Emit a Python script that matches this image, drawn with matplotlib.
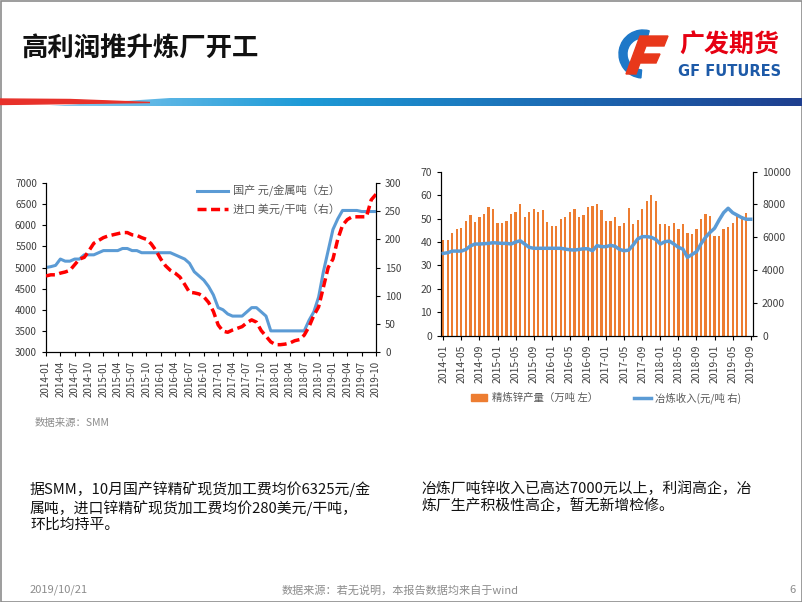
import numpy as np
import matplotlib
matplotlib.use("Agg")
import matplotlib.pyplot as plt
from matplotlib.patches import Rectangle, Wedge, Polygon
from matplotlib.lines import Line2D
from matplotlib.colors import LinearSegmentedColormap

plt.rcParams['font.family'] = ['Noto Sans CJK SC', 'DejaVu Sans']

    #========= DATA ======================================================#

# left chart: zinc concentrate treatment charges, 2014-01 .. 2019-10
tc_months = [f"{y}-{m:02d}" for y in range(2014, 2020) for m in range(1, 13)][:70]
domestic_tc = [5000, 5020, 5050, 5200, 5150, 5150, 5200, 5200, 5300, 5300,
               5300, 5350, 5400, 5400, 5400, 5400, 5450, 5450, 5400, 5400,
               5350, 5350, 5350, 5350, 5350, 5350, 5350, 5300, 5250, 5200,
               5100, 4900, 4800, 4700, 4550, 4350, 4050, 4000, 3900, 3850,
               3850, 3850, 3950, 4050, 4050, 3950, 3850, 3500, 3500, 3500,
               3500, 3500, 3500, 3500, 3500, 3750, 3950, 4300, 4900, 5400,
               5900, 6150, 6350, 6350, 6350, 6350, 6325, 6325, 6325, 6325]
import_tc = [135, 137, 137, 140, 142, 145, 155, 165, 168, 180,
             193, 198, 203, 206, 208, 210, 212, 212, 208, 207,
             203, 200, 192, 180, 165, 153, 145, 140, 133, 120,
             106, 105, 103, 98, 88, 72, 48, 37, 35, 39,
             42, 45, 52, 57, 53, 38, 28, 18, 13, 13,
             14, 16, 20, 22, 30, 45, 65, 80, 115, 150,
             165, 200, 225, 235, 240, 240, 240, 240, 270, 280]
tc_labels = ["国产 元/金属吨（左）", "进口 美元/干吨（右）"]

# right chart: refined zinc output and smelting income, 2014-01 .. 2019-09
out_months = tc_months[:69]
refined_output = [41, 41, 44, 45.5, 46, 49, 51.5, 48.5, 50.5, 52,
                  55, 54, 48, 48, 49, 52, 53, 56, 50.5, 53,
                  54, 53, 53.5, 48.5, 47, 47, 50, 50.5, 53, 54,
                  50.5, 51.5, 55, 55.5, 56, 53.5, 49, 49, 50.5, 47,
                  48, 54.5, 47.5, 49.5, 54, 57.5, 60, 57.5, 47.5, 47.5,
                  47, 48, 45.5, 47.5, 44, 43.5, 45.5, 50, 52, 51,
                  42.5, 42.5, 45.5, 46.5, 48, 51, 51, 52.5, np.nan]
smelting_income = [5020, 5060, 5160, 5160, 5160, 5260, 5470, 5590, 5590, 5610,
                   5630, 5670, 5650, 5630, 5630, 5590, 5710, 5790, 5590, 5390,
                   5330, 5330, 5330, 5330, 5330, 5330, 5330, 5280, 5240, 5220,
                   5260, 5300, 5300, 5180, 5490, 5430, 5430, 5510, 5450, 5260,
                   5180, 5220, 5530, 5900, 6040, 6040, 6000, 5870, 5590, 5730,
                   5770, 5590, 5390, 5280, 4780, 4950, 5120, 5600, 6000, 6300,
                   6550, 7050, 7500, 7770, 7500, 7350, 7200, 7100, 7100]
out_labels = ["精炼锌产量（万吨 左）", "冶炼收入(元/吨 右)"]

    #========= CONSTANTS =================================================#

W, H = 802, 602
BLUE = "#5B9BD5"
RED = "#FF0000"
ORANGE = "#ED7D31"
TICK = "#404040"

def box(x0, y0, x1, y1):
    # pixel box (top-left origin) -> figure fraction rect
    return [x0 / W, 1 - y1 / H, (x1 - x0) / W, (y1 - y0) / H]

    #========= SLIDE =====================================================#

fig = plt.figure(figsize=(W / 100, H / 100), dpi=100)
bg = fig.add_axes([0, 0, 1, 1])
bg.set_xlim(0, W)
bg.set_ylim(H, 0)
bg.axis("off")

bg.add_patch(Rectangle((0.5, 0.5), W - 1, H - 1, fill=False, edgecolor="#8c8c8c", lw=1.2))

bg.text(22, 49, "高利润推升炼厂开工", fontsize=19, fontweight="bold", va="center", color="#111111")

# logo
bg.add_patch(Wedge((643, 54), 24, 95, 285, width=8, color="#1E78C8"))
bg.add_patch(Polygon([[640, 36], [668, 36], [664, 46], [646, 46], [643, 54], [660, 54],
                      [656, 63], [640, 63], [636, 74], [626, 74]], closed=True, color="#E8381B"))
bg.text(679, 46, "广发期货", fontsize=18, fontweight="bold", color="#E60012", va="center")
bg.text(678, 71, "GF FUTURES", fontsize=10.5, fontweight="bold", color="#1D5AA8", va="center",
        family="DejaVu Sans")

# header band
band = LinearSegmentedColormap.from_list("band", ["#8CCBF0", "#1E9BD7", "#1B6CB5", "#1F3F8F"])
img = bg.imshow(np.linspace(0, 1, 256)[None, :], cmap=band, aspect="auto",
                extent=[50, W, 106, 98], zorder=1)
clip = Polygon([[50, 106], [170, 98], [W, 98], [W, 106]], closed=True, transform=bg.transData)
img.set_clip_path(clip)
bg.add_patch(Polygon([[0, 99], [70, 99.5], [150, 102.5], [0, 104.5]], closed=True,
                     color="#E8312A", zorder=3))
bg.set_xlim(0, W)
bg.set_ylim(H, 0)

# texts
bg.text(35, 423, "数据来源：SMM", fontsize=7.5, color="#8c8c8c", va="center")
bg.text(30, 481, "据SMM，10月国产锌精矿现货加工费均价6325元/金\n"
                 "属吨，进口锌精矿现货加工费均价280美元/干吨，\n"
                 "环比均持平。",
        fontsize=10.7, va="top", color="#111111", linespacing=1.22)
bg.text(421, 481, "冶炼厂吨锌收入已高达7000元以上，利润高企，冶\n"
                  "炼厂生产积极性高企，暂无新增检修。",
        fontsize=10.7, va="top", color="#111111", linespacing=1.22)
bg.text(30, 590, "2019/10/21", fontsize=8, color="#8c8c8c", va="center")
bg.text(400, 590, "数据来源：若无说明，本报告数据均来自于wind", fontsize=8, color="#8c8c8c",
        va="center", ha="center")
bg.text(789, 590, "6", fontsize=8, color="#8c8c8c", va="center")

    #========= LEFT CHART ================================================#

x = np.arange(len(tc_months))
ax1 = fig.add_axes(box(46, 183, 376, 352))
ax1.plot(x, domestic_tc, color=BLUE, lw=2.2, zorder=3)
ax1.set_xlim(0, len(tc_months) - 1)
ax1.set_ylim(3000, 7000)
ax1.set_yticks(range(3000, 7001, 500))
ax1.set_xticks(x[::3])
ax1.set_xticklabels(tc_months[::3], rotation=90)
ax1r = ax1.twinx()
ax1r.plot(x, import_tc, color=RED, lw=2.5, ls=(0, (2.6, 1.3)), zorder=4)
ax1r.set_ylim(0, 300)
ax1r.set_yticks(range(0, 301, 50))
for a in (ax1, ax1r):
    a.patch.set_visible(False)
    a.spines["top"].set_visible(False)
    for s in ("left", "right", "bottom"):
        a.spines[s].set_color("black")
        a.spines[s].set_linewidth(0.8)
    a.tick_params(labelsize=7, colors=TICK, length=3, width=0.8)
    a.tick_params(axis="both", color="black")

handles = [Line2D([], [], color=BLUE, lw=2.2),
           Line2D([], [], color=RED, lw=2.5, ls=(0, (2.6, 1.3)))]
fig.legend(handles, tc_labels, loc="upper left", bbox_to_anchor=(187 / W, 1 - 175 / H),
           frameon=False, fontsize=8, labelcolor="#595959", handlelength=2.8,
           labelspacing=0.6, handletextpad=0.4)

    #========= RIGHT CHART ===============================================#

xr = np.arange(len(out_months))
ax2 = fig.add_axes(box(441, 171.7, 753, 335.7))
ax2.bar(xr, refined_output, width=0.5, color=ORANGE, zorder=2)
ax2.set_xlim(-0.5, len(out_months) - 0.5)
ax2.set_ylim(0, 70)
ax2.set_yticks(range(0, 71, 10))
ax2.set_xticks(xr[::4])
ax2.set_xticklabels(out_months[::4], rotation=90)
ax2r = ax2.twinx()
ax2r.plot(xr, smelting_income, color=BLUE, lw=2.5, zorder=3)
ax2r.set_ylim(0, 10000)
ax2r.set_yticks(range(0, 10001, 2000))
for a in (ax2, ax2r):
    a.patch.set_visible(False)
    a.spines["top"].set_visible(False)
    for s in ("left", "right", "bottom"):
        a.spines[s].set_color("black")
        a.spines[s].set_linewidth(0.8)
    a.tick_params(labelsize=7.5, colors=TICK, length=3, width=0.8)
    a.tick_params(axis="both", color="black")

handles = [Rectangle((0, 0), 1, 1, color=ORANGE), Line2D([], [], color=BLUE, lw=2.5)]
fig.legend(handles, out_labels, loc="center", bbox_to_anchor=(606 / W, 1 - 398 / H),
           ncol=2, frameon=False, fontsize=7.5, labelcolor="#595959", handlelength=1.6,
           handleheight=0.6, columnspacing=3.5, handletextpad=0.4)

fig.savefig("out.png", dpi=100)
